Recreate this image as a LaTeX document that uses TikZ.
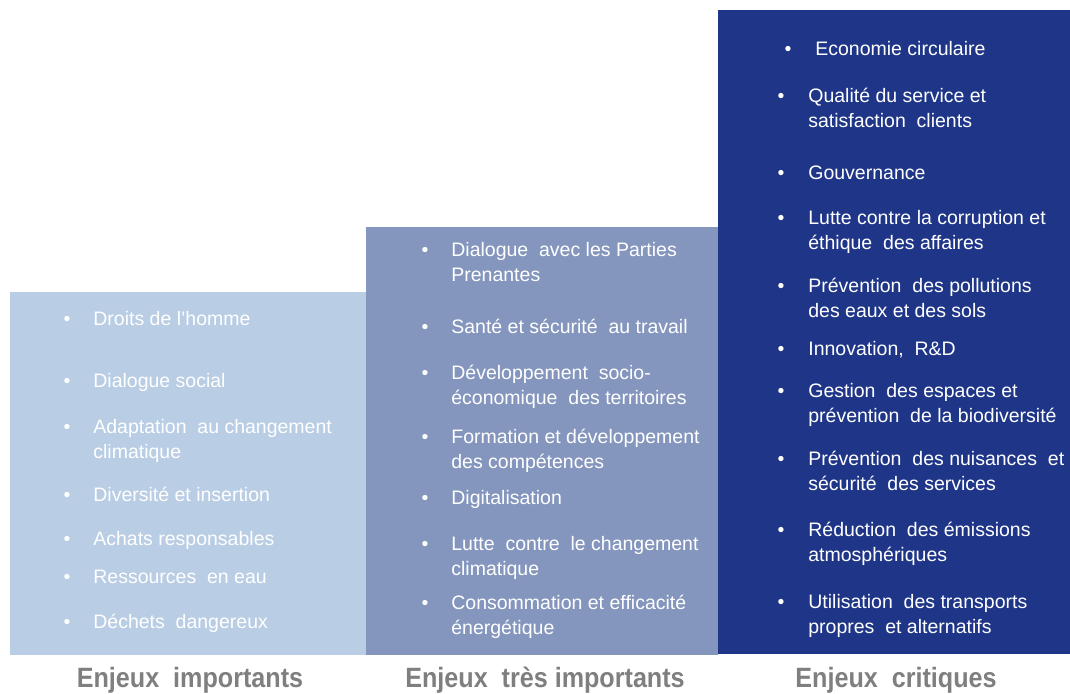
\documentclass[tikz,border=0pt]{standalone}
\usepackage{fontspec}
\setmainfont{Liberation Sans}
\newfontfamily\narrowfont[FakeStretch=0.9]{Liberation Sans}
\usetikzlibrary{positioning}
\definecolor{bleuclair}{HTML}{B9CDE5}
\definecolor{bleumoyen}{HTML}{8496BD}
\definecolor{bleufonce}{HTML}{1F3688}
\definecolor{grislabel}{HTML}{7F7F7F}
% texte sur plusieurs lignes, aligne sur la premiere ligne
\newcommand{\lignes}[1]{\begin{tabular}[t]{@{}l@{}}#1\end{tabular}}

\begin{document}
\begin{tikzpicture}[
  x=0.02cm, y=-0.02cm,
  enjeu/.style={
    draw=none,
    inner sep=0pt,
    anchor=south west
  },
  item/.style={
    anchor=base west,
    inner sep=0pt,
    text=white,
    font=\fontsize{11.1}{14.5}\selectfont
  },
  puce/.style={anchor=base, inner sep=0pt, text=white, font=\fontsize{11.1}{14.5}\selectfont},
  titre/.style={anchor=base, inner sep=0pt, text=grislabel,
    font=\narrowfont\bfseries\fontsize{15.9}{18}\selectfont}
]
\useasboundingbox (0,0) rectangle (1070,693);

% les trois colonnes
\node[enjeu, fill=bleuclair, minimum width=7.12cm, minimum height=7.26cm] (importants) at (10,655) {};
\node[enjeu, fill=bleumoyen, minimum width=7.04cm, minimum height=8.56cm] (tresimportants) at (366,655) {};
\node[enjeu, fill=bleufonce, minimum width=7.04cm, minimum height=12.88cm] (critiques) at (718,654) {};

% enjeux importants
\foreach \x/\y/\txt [count=\i] in {
  67/318/{Droits de l’homme},
  67/380/{Dialogue social},
  67/426/{Adaptation\ \ au changement\\climatique},
  67/494/{Diversité et insertion},
  67/538/{Achats responsables},
  67/576/{Ressources\ \ en eau},
  67/621/{Déchets\ \ dangereux}}
{
  \node[puce] (pimp-\i) at (\x,\y+7) {•};
  \node[item] (imp-\i) at (\x+26,\y+7) {\lignes{\txt}};
}

% enjeux tres importants
\foreach \x/\y/\txt [count=\i] in {
  425/249/{Dialogue\ \ avec les Parties\\Prenantes},
  425/326/{Santé et sécurité\ \ au travail},
  425/372/{Développement\ \ socio-\\économique\ \ des territoires},
  425/436/{Formation et développement\\des compétences},
  425/497/{Digitalisation},
  425/543/{Lutte\ \ contre\ \ le changement\\climatique},
  425/602/{Consommation et efficacité\\énergétique}}
{
  \node[puce] (ptres-\i) at (\x,\y+7) {•};
  \node[item] (tres-\i) at (\x+26,\y+7) {\lignes{\txt}};
}

% enjeux critiques
\foreach \x/\y/\txt [count=\i] in {
  788/48/{Economie circulaire},
  781/95/{Qualité du service et\\satisfaction\ \ clients},
  781/172/{Gouvernance},
  781/217/{Lutte contre la corruption et\\éthique\ \ des affaires},
  781/285/{Prévention\ \ des pollutions\\des eaux et des sols},
  781/348/{Innovation,\ \ R\&D},
  781/390/{Gestion\ \ des espaces et\\prévention\ \ de la biodiversité},
  781/458/{Prévention\ \ des nuisances\ \ et\\sécurité\ \ des services},
  781/529/{Réduction\ \ des émissions\\atmosphériques},
  781/601/{Utilisation\ \ des transports\\propres\ \ et alternatifs}}
{
  \node[puce] (pcrit-\i) at (\x,\y+7) {•};
  \node[item] (crit-\i) at (\x+27,\y+7) {\lignes{\txt}};
}

% titres
\node[titre] (t-importants) at (190,687) {Enjeux\ \ importants};
\node[titre] (t-tres) at (545,687) {Enjeux\ \ très importants};
\node[titre] (t-critiques) at (896,687) {Enjeux\ \ critiques};
\end{tikzpicture}
\end{document}
